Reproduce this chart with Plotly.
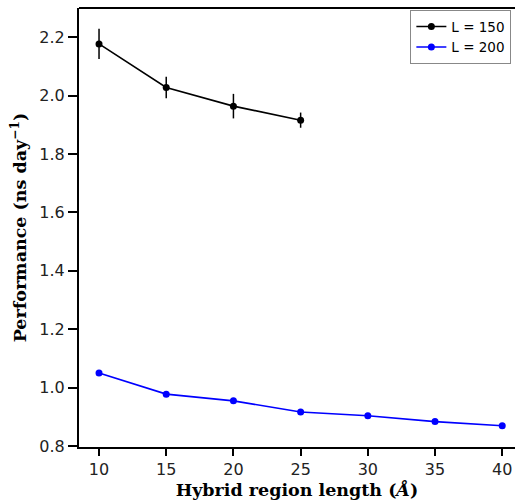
import plotly.graph_objects as go

x150 = [10, 15, 20, 25]
y150 = [2.177, 2.028, 1.964, 1.916]
e150 = [0.052, 0.037, 0.042, 0.026]

x200 = [10, 15, 20, 25, 30, 35, 40]
y200 = [1.050, 0.978, 0.955, 0.917, 0.904, 0.884, 0.870]

xticks = [10, 15, 20, 25, 30, 35, 40]
yticks = [0.8, 1.0, 1.2, 1.4, 1.6, 1.8, 2.0, 2.2]

fig = go.Figure()
fig.add_trace(go.Scatter(
    x=x150, y=y150, mode="lines+markers", name="L = 150",
    line=dict(color="black", width=1.6),
    marker=dict(color="black", size=7),
    error_y=dict(type="data", array=e150, visible=True, color="black", thickness=1.5, width=0),
))
fig.add_trace(go.Scatter(
    x=x200, y=y200, mode="lines+markers", name="L = 200",
    line=dict(color="#0000ff", width=1.6),
    marker=dict(color="#0000ff", size=7),
))

tickfont = dict(family="DejaVu Sans", size=16, color="#222")
titlefont = dict(family="DejaVu Serif", size=17.5, color="black", weight="bold")

fig.update_layout(
    width=515, height=504,
    margin=dict(l=79, r=0, t=8, b=57),
    paper_bgcolor="white", plot_bgcolor="white",
    showlegend=True,
    legend=dict(x=0.76, y=0.995, xanchor="left", yanchor="top",
                bordercolor="#888", borderwidth=1, bgcolor="white",
                font=dict(family="DejaVu Sans", size=13.5, color="black"),
                tracegroupgap=0),
    xaxis=dict(range=[8.51, 40.95], tickvals=xticks, ticks="outside", ticklen=7, tickwidth=1.5,
               tickcolor="black", showline=True, linecolor="black", linewidth=2,
               showgrid=False, zeroline=False, tickfont=tickfont,
               title=dict(text="Hybrid region length (<i>Å</i>)", font=titlefont, standoff=4)),
    yaxis=dict(range=[0.797, 2.30], tickvals=yticks, tickformat=".1f", ticks="outside", ticklen=9,
               tickwidth=1.5, tickcolor="black", showline=True, linecolor="black", linewidth=2,
               showgrid=False, zeroline=False, tickfont=tickfont,
               title=dict(text="Performance (ns day<sup>−1</sup>)", font=titlefont, standoff=8)),
)
fig.add_shape(type="line", xref="paper", yref="paper", x0=0, x1=1, y0=1, y1=1,
              line=dict(color="black", width=2))

fig.write_html("out.html", config={"displayModeBar": False},
               post_script="document.body.style.margin='0';document.body.style.overflow='hidden';")
